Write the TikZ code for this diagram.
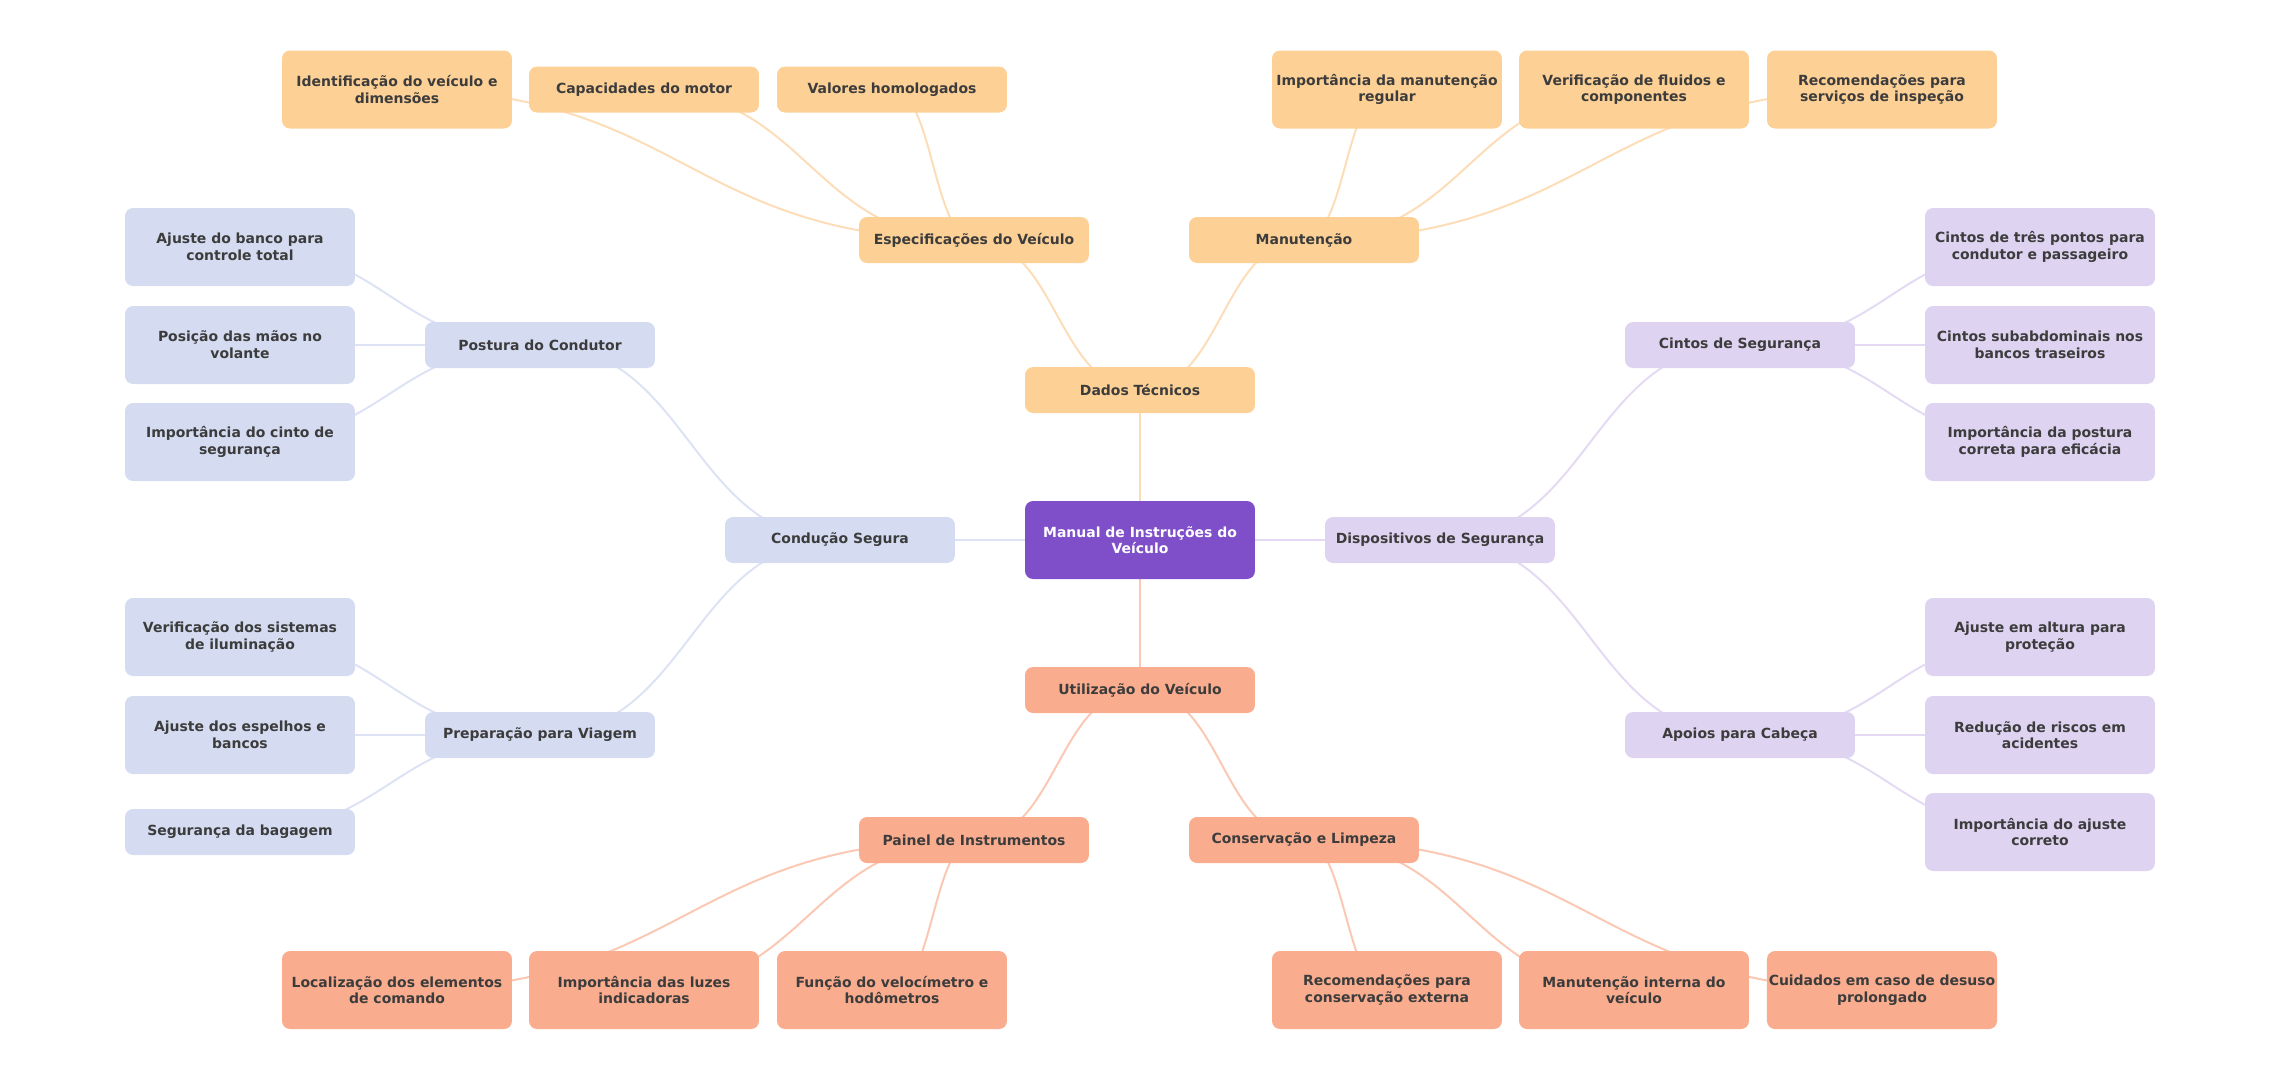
\documentclass[tikz,border=0pt]{standalone}
\usepackage{fontspec}
\setmainfont{DejaVu Sans}
\usetikzlibrary{calc}

\definecolor{rootfill}{HTML}{7E4FC9}
\definecolor{orangefill}{HTML}{FDD095}
\definecolor{salmonfill}{HTML}{FAAD8E}
\definecolor{bluefill}{HTML}{D5DCF2}
\definecolor{purplefill}{HTML}{DED3F1}
\definecolor{orangeline}{HTML}{FDDDB8}
\definecolor{salmonline}{HTML}{FBC8B4}
\definecolor{blueline}{HTML}{DDE3F4}
\definecolor{purpleline}{HTML}{E4DAF4}
\definecolor{textgray}{HTML}{3C3C3C}

\pgfdeclarelayer{background}
\pgfsetlayers{background,main}

\tikzset{
  box/.style={rounded corners=0.16cm, minimum width=4.6cm, minimum height=0.92cm,
    inner xsep=1pt, align=center, text=textgray,
    font=\fontsize{7.95}{9.5}\selectfont\bfseries},
  tall/.style={minimum height=1.56cm},
  rootbox/.style={box, tall, fill=rootfill, text=white},
  orangebox/.style={box, fill=orangefill},
  salmonbox/.style={box, fill=salmonfill},
  bluebox/.style={box, fill=bluefill},
  purplebox/.style={box, fill=purplefill},
  link/.style={line width=0.04cm}
}

\begin{document}
\begin{tikzpicture}[x=0.02cm, y=-0.02cm]
  \useasboundingbox (0,0) rectangle (2280,1080);

  % centre
  \node[rootbox] (root) at (1140,540) {Manual de Instruções do\\Veículo};

  % Dados Tecnicos (top)
  \node[orangebox] (dados) at (1140,390) {Dados Técnicos};
  \node[orangebox] (espec) at (974,240) {Especificações do Veículo};
  \node[orangebox] (manut) at (1304,240) {Manutenção};
  \node[orangebox, tall] (ident) at (397,89.5) {Identificação do veículo e\\dimensões};
  \node[orangebox] (capac) at (644,89.5) {Capacidades do motor};
  \node[orangebox] (valores) at (892,89.5) {Valores homologados};
  \node[orangebox, tall] (impman) at (1387,89.5) {Importância da manutenção\\regular};
  \node[orangebox, tall] (verif) at (1634,89.5) {Verificação de fluidos e\\componentes};
  \node[orangebox, tall] (recom) at (1882,89.5) {Recomendações para\\serviços de inspeção};

  % Utilizacao (bottom)
  \node[salmonbox] (utiliz) at (1140,690) {Utilização do Veículo};
  \node[salmonbox] (painel) at (974,840) {Painel de Instrumentos};
  \node[salmonbox] (conserv) at (1304,840) {Conservação e Limpeza};
  \node[salmonbox, tall] (local) at (397,990) {Localização dos elementos\\de comando};
  \node[salmonbox, tall] (luzes) at (644,990) {Importância das luzes\\indicadoras};
  \node[salmonbox, tall] (velo) at (892,990) {Função do velocímetro e\\hodômetros};
  \node[salmonbox, tall] (extern) at (1387,990) {Recomendações para\\conservação externa};
  \node[salmonbox, tall] (interna) at (1634,990) {Manutenção interna do\\veículo};
  \node[salmonbox, tall] (desuso) at (1882,990) {Cuidados em caso de desuso\\prolongado};

  % Conducao Segura (left)
  \node[bluebox] (conducao) at (840,540) {Condução Segura};
  \node[bluebox] (postura) at (540,345) {Postura do Condutor};
  \node[bluebox] (prepar) at (540,735) {Preparação para Viagem};
  \node[bluebox, tall] (ajbanco) at (240,247) {Ajuste do banco para\\controle total};
  \node[bluebox, tall] (posmaos) at (240,345) {Posição das mãos no\\volante};
  \node[bluebox, tall] (impcinto) at (240,442) {Importância do cinto de\\segurança};
  \node[bluebox, tall] (verilum) at (240,637) {Verificação dos sistemas\\de iluminação};
  \node[bluebox, tall] (ajesp) at (240,735) {Ajuste dos espelhos e\\bancos};
  \node[bluebox] (bagagem) at (240,832) {Segurança da bagagem};

  % Dispositivos de Seguranca (right)
  \node[purplebox] (disp) at (1440,540) {Dispositivos de Segurança};
  \node[purplebox] (cintos) at (1740,345) {Cintos de Segurança};
  \node[purplebox] (apoios) at (1740,735) {Apoios para Cabeça};
  \node[purplebox, tall] (tres) at (2040,247) {Cintos de três pontos para\\condutor e passageiro};
  \node[purplebox, tall] (subab) at (2040,345) {Cintos subabdominais nos\\bancos traseiros};
  \node[purplebox, tall] (postcorr) at (2040,442) {Importância da postura\\correta para eficácia};
  \node[purplebox, tall] (altura) at (2040,637) {Ajuste em altura para\\proteção};
  \node[purplebox, tall] (riscos) at (2040,735) {Redução de riscos em\\acidentes};
  \node[purplebox, tall] (ajcorreto) at (2040,832) {Importância do ajuste\\correto};

  % links, centre to centre, behind the boxes
  \begin{pgfonlayer}{background}
    \foreach \a/\b/\c in {root/dados/orangeline, dados/espec/orangeline, dados/manut/orangeline,
        espec/ident/orangeline, espec/capac/orangeline, espec/valores/orangeline,
        manut/impman/orangeline, manut/verif/orangeline, manut/recom/orangeline,
        root/utiliz/salmonline, utiliz/painel/salmonline, utiliz/conserv/salmonline,
        painel/local/salmonline, painel/luzes/salmonline, painel/velo/salmonline,
        conserv/extern/salmonline, conserv/interna/salmonline, conserv/desuso/salmonline,
        root/conducao/blueline, conducao/postura/blueline, conducao/prepar/blueline,
        postura/ajbanco/blueline, postura/posmaos/blueline, postura/impcinto/blueline,
        prepar/verilum/blueline, prepar/ajesp/blueline, prepar/bagagem/blueline,
        root/disp/purpleline, disp/cintos/purpleline, disp/apoios/purpleline,
        cintos/tres/purpleline, cintos/subab/purpleline, cintos/postcorr/purpleline,
        apoios/altura/purpleline, apoios/riscos/purpleline, apoios/ajcorreto/purpleline}
      \draw[link, \c] let \p1=(\a), \p2=(\b) in
        (\p1) .. controls ({(\x1+\x2)/2},\y1) and ({(\x1+\x2)/2},\y2) .. (\p2);
  \end{pgfonlayer}
\end{tikzpicture}
\end{document}
